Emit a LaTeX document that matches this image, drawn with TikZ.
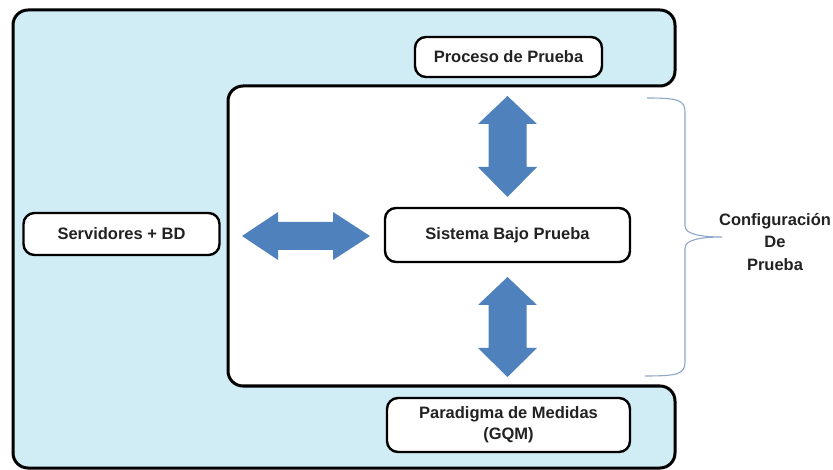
\documentclass[tikz,border=0pt]{standalone}
\usepackage{fontspec}
\setmainfont{Liberation Sans}
\definecolor{bgblue}{RGB}{208,236,245}
\definecolor{arrblue}{RGB}{79,129,189}
\definecolor{bracecol}{RGB}{142,168,200}
\definecolor{txt}{RGB}{34,34,34}
\begin{document}
\begin{tikzpicture}[x=1pt,y=-1pt,
  outer/.style={draw=black,line width=3pt,fill=bgblue,rounded corners=15pt},
  box/.style={draw=black,line width=2.4pt,fill=white,rounded corners=11pt,
    font=\fontsize{16.5}{21}\selectfont\bfseries,text=txt,align=center,inner sep=0pt},
  arr/.style={fill=arrblue},
  brace/.style={draw=bracecol,line width=1.1pt},
  lbl/.style={font=\fontsize{16.5}{22.5}\selectfont\bfseries,text=txt,align=center}]
\useasboundingbox (0,0) rectangle (833,470);
\fill[white] (0,0) rectangle (833,470);
% C-shaped outer region
\draw[outer] (13,10) -- (675,10) -- (675,86) -- (228,86) -- (228,386)
  -- (675,386) -- (675,468) -- (13,468) -- cycle;
% boxes
\node[box,minimum width=187,minimum height=40] (proc) at (508.5,57) {Proceso de Prueba};
\node[box,minimum width=196,minimum height=42] (srv) at (121.5,234) {Servidores + BD};
\node[box,minimum width=245,minimum height=54] (sis) at (507.5,235) {Sistema Bajo Prueba};
\node[box,minimum width=243,minimum height=54] (par) at (508.5,425) {Paradigma de Medidas\\(GQM)};
% double arrows
\fill[arr] (242,236) -- (278,212) -- (278,222) -- (333,222) -- (333,212) -- (370,236)
  -- (333,260) -- (333,250) -- (278,250) -- (278,260) -- cycle;
\fill[arr] (507.5,96) -- (537,124) -- (526.5,124) -- (526.5,167) -- (537,167) -- (507.5,197)
  -- (478,167) -- (488.5,167) -- (488.5,124) -- (478,124) -- cycle;
\fill[arr] (507.5,277) -- (537,305) -- (526.5,305) -- (526.5,348) -- (537,348) -- (507.5,377)
  -- (478,348) -- (488.5,348) -- (488.5,305) -- (478,305) -- cycle;
% brace
\coordinate (btop) at (647,98);
\coordinate (btip) at (722,237);
\coordinate (bbot) at (645,376);
\draw[brace] (btop) .. controls (678,98) and (685,100) .. (685,112) -- (685,226)
  .. controls (685,234) and (700,237) .. (btip)
  .. controls (700,237) and (685,240) .. (685,248) -- (685,362)
  .. controls (685,374) and (678,376) .. (bbot);
\node[lbl] (conf) at (775,242) {Configuración\\De\\Prueba};
\end{tikzpicture}
\end{document}
